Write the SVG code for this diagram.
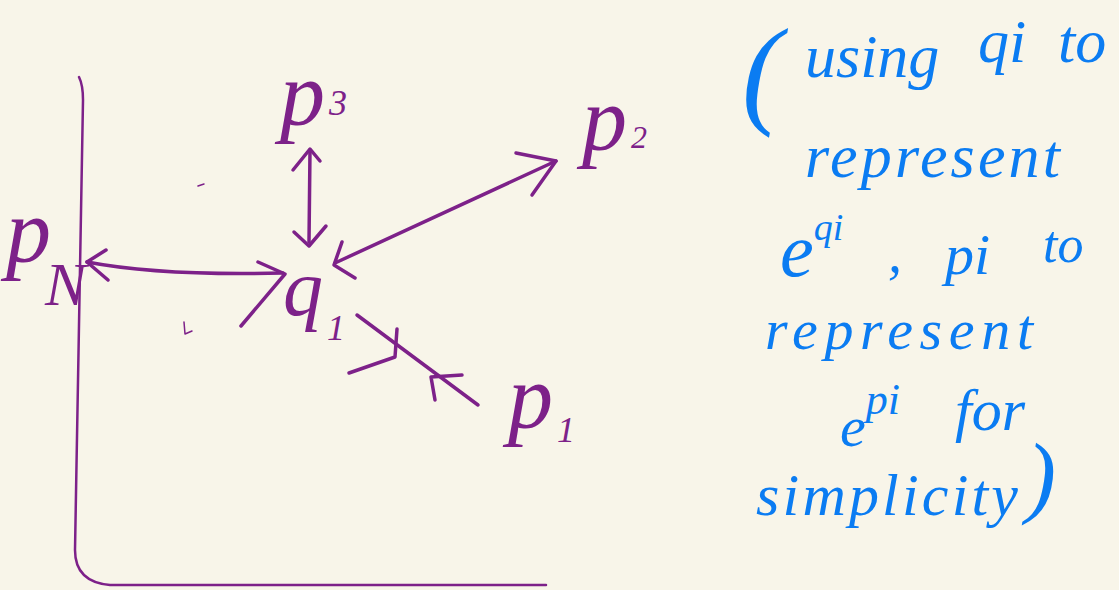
<svg xmlns="http://www.w3.org/2000/svg" width="1119" height="590" viewBox="0 0 1119 590">
<style>
.bg{fill:#f8f5e9}
.pl{fill:none;stroke:#7d2189;stroke-width:3.5;stroke-linecap:round;stroke-linejoin:round}
.plt{fill:#7d2189;font-family:"Liberation Serif",serif;font-style:italic}
.note{fill:#0b7cf2;font-family:"Liberation Serif",serif;font-style:italic}
</style>
<rect class="bg" x="0" y="0" width="1119" height="590"/>
<g id="axes">
<path class="pl" d="M79,77 Q83,85 83,100 L75,550 Q75,582 110,585 L546,585" style="stroke-width:2.5"/>
</g>
<g id="marks">
<path class="pl" d="M198,186 L204,184" style="stroke-width:1.5"/>
<path class="pl" d="M184,322 L185,334 L192,331" style="stroke-width:1.5"/>
</g>
<g id="connectors">
<path class="pl" d="M87,262 Q160,276 283,273"/>
<path class="pl" d="M106,250 L87,262 L108,280"/>
<path class="pl" d="M258,262 L285,274 L241,326"/>
<path class="pl" d="M310,150 L309,242"/>
<path class="pl" d="M293,170 L310,149 L320,161"/>
<path class="pl" d="M294,232 L309,246 L326,226"/>
<path class="pl" d="M335,263 L556,161"/>
<path class="pl" d="M516,153 L556,161 L532,195"/>
<path class="pl" d="M342,242 L334,265 L355,278"/>
<path class="pl" d="M357,315 L478,405"/>
<path class="pl" d="M349,373 L395,357 L397,329"/>
<path class="pl" d="M435,400 L431,377 L462,375"/>
</g>
<g id="node-p3"><text class="plt" x="280" y="125" font-size="90">p<tspan font-size="36" dx="4" dy="-10">3</tspan></text></g>
<g id="node-p2"><text class="plt" x="582" y="150" font-size="90">p<tspan font-size="32" dx="4" dy="-2">2</tspan></text></g>
<g id="node-pN"><text class="plt" x="6" y="262" font-size="90">p<tspan font-size="62" dx="-6" dy="43">N</tspan></text></g>
<g id="node-q1"><text class="plt" x="283" y="315" font-size="80">q<tspan font-size="36" dx="4" dy="25">1</tspan></text></g>
<g id="node-p1"><text class="plt" x="508" y="428" font-size="90">p<tspan font-size="36" dx="4" dy="14">1</tspan></text></g>
<g id="note">
<text class="note" x="742" y="112" font-size="120">(</text>
<text class="note" x="805" y="77" font-size="62">using</text>
<text class="note" x="978" y="62" font-size="62">qi</text>
<text class="note" x="1058" y="62" font-size="62">to</text>
<text class="note" x="805" y="177" font-size="62" textLength="255" lengthAdjust="spacing">represent</text>
<text class="note" x="780" y="276" font-size="76">e<tspan font-size="38" dy="-36">qi</tspan></text>
<text class="note" x="888" y="272" font-size="56">,</text>
<text class="note" x="945" y="274" font-size="58">pi</text>
<text class="note" x="1043" y="262" font-size="52">to</text>
<text class="note" x="765" y="349" font-size="58" textLength="268" lengthAdjust="spacing">represent</text>
<text class="note" x="840" y="446" font-size="58">e<tspan font-size="44" dy="-32">pi</tspan></text>
<text class="note" x="955" y="430" font-size="60">for</text>
<text class="note" x="756" y="515" font-size="60" textLength="262" lengthAdjust="spacing">simplicity</text>
<text class="note" x="1026" y="506" font-size="90">)</text>
</g>
</svg>
